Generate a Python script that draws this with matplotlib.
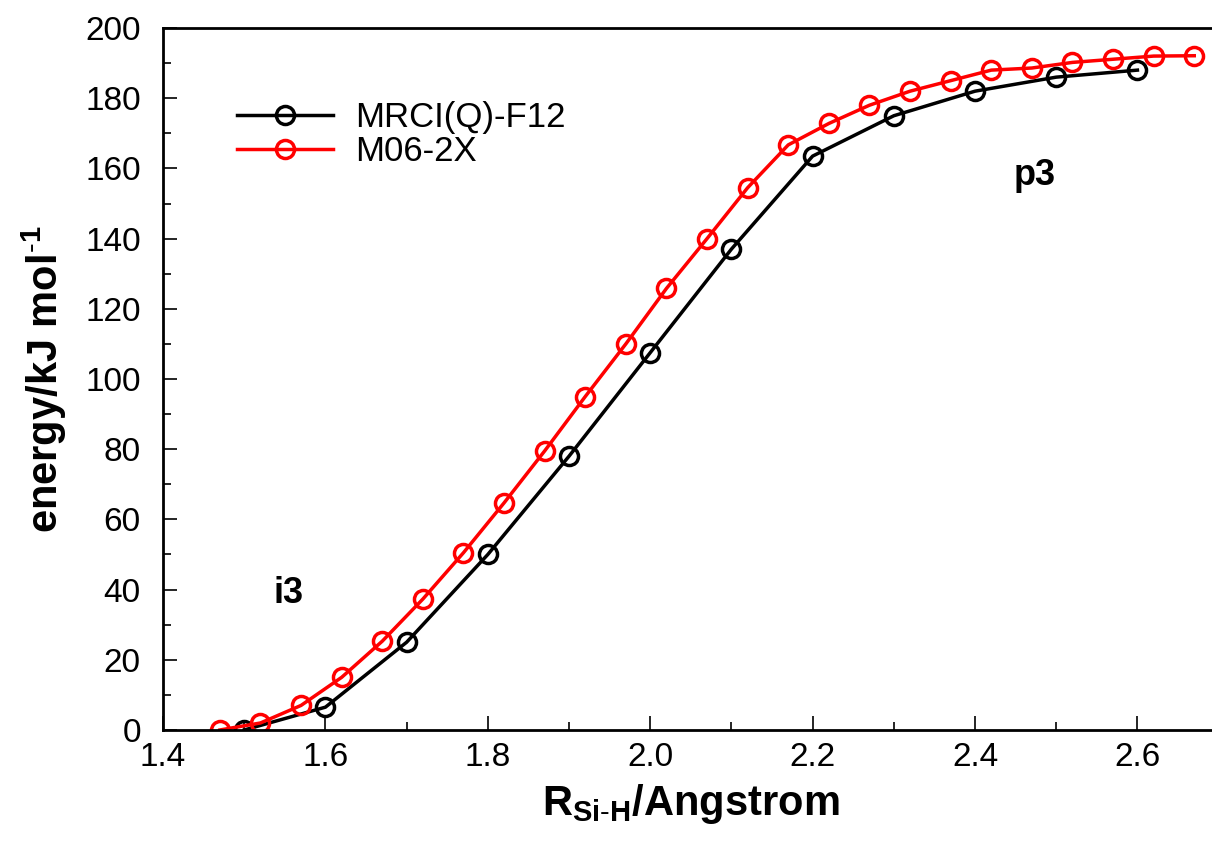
import matplotlib
matplotlib.use("Agg")
import matplotlib.pyplot as plt
from matplotlib.ticker import MultipleLocator, FormatStrFormatter

plt.rcParams['font.family'] = ['Liberation Sans', 'DejaVu Sans']
plt.rcParams['mathtext.fontset'] = 'custom'
plt.rcParams['mathtext.rm'] = 'Liberation Sans'
plt.rcParams['mathtext.bf'] = 'Liberation Sans:bold'

# Si-H distance scan (Angstrom) and relative energies (kJ/mol)
r_mrci = [1.5, 1.6, 1.7, 1.8, 1.9, 2.0, 2.1, 2.2, 2.3, 2.4, 2.5, 2.6]
e_mrci = [0.0, 6.5, 25.0, 50.0, 78.0, 107.5, 137.0, 163.5, 175.0, 182.0, 186.0, 188.0]

r_m06 = [1.47, 1.52, 1.57, 1.62, 1.67, 1.72, 1.77, 1.82, 1.87, 1.92, 1.97, 2.02,
         2.07, 2.12, 2.17, 2.22, 2.27, 2.32, 2.37, 2.42, 2.47, 2.52, 2.57, 2.62, 2.67]
e_m06 = [0.0, 2.0, 7.0, 15.0, 25.3, 37.3, 50.5, 64.7, 79.5, 95.0, 110.0, 125.8,
         140.0, 154.5, 166.7, 172.8, 178.0, 182.0, 185.0, 188.0, 188.6, 190.2,
         191.1, 192.0, 192.1]

fig = plt.figure(figsize=(12.12, 8.41), dpi=100)
ax = fig.add_axes([0.1345, 0.132, 1055.6 / 1212, 0.8347])

marker_style = dict(marker='o', markersize=13, markerfacecolor='none',
                    markeredgewidth=2.5, linewidth=2.5)
ax.plot(r_mrci, e_mrci, color='black', label='MRCI(Q)-F12', **marker_style)
ax.plot(r_m06, e_m06, color='#ff0000', label='M06-2X', **marker_style)

ax.set_xlim(1.4, 2.7)
ax.set_ylim(0, 200)
ax.xaxis.set_major_locator(MultipleLocator(0.2))
ax.xaxis.set_minor_locator(MultipleLocator(0.1))
ax.yaxis.set_major_locator(MultipleLocator(20))
ax.yaxis.set_minor_locator(MultipleLocator(10))
ax.xaxis.set_major_formatter(FormatStrFormatter('%.1f'))

ax.tick_params(which='both', direction='in', top=False, right=False,
               labelsize=24, width=1.2)
ax.tick_params(which='major', length=10)
ax.tick_params(which='minor', length=6)
ax.tick_params(axis='x', which='major', pad=9)
ax.tick_params(axis='y', which='major', pad=16)
for s in ax.spines.values():
    s.set_linewidth(2)
ax.spines['right'].set_visible(False)

ax.set_xlabel(r'R$_{\mathbf{Si\text{-}H}}$/Angstrom', fontsize=30, fontweight='bold', labelpad=6)
ax.set_ylabel(r'energy/kJ mol$^{\mathbf{\text{-}1}}$', fontsize=30, fontweight='bold', labelpad=12)

ax.text(1.554, 36.2, 'i3', fontsize=26, fontweight='bold', ha='center', va='baseline')
ax.text(2.474, 155.3, 'p3', fontsize=26, fontweight='bold', ha='center', va='baseline')

leg = ax.legend(loc='center left', bbox_to_anchor=(0.0701, 0.848), frameon=False,
                fontsize=25, handlelength=2.77, handletextpad=0.63,
                labelspacing=0.02, borderaxespad=0, borderpad=0)

fig.savefig('out.png', dpi=100)
